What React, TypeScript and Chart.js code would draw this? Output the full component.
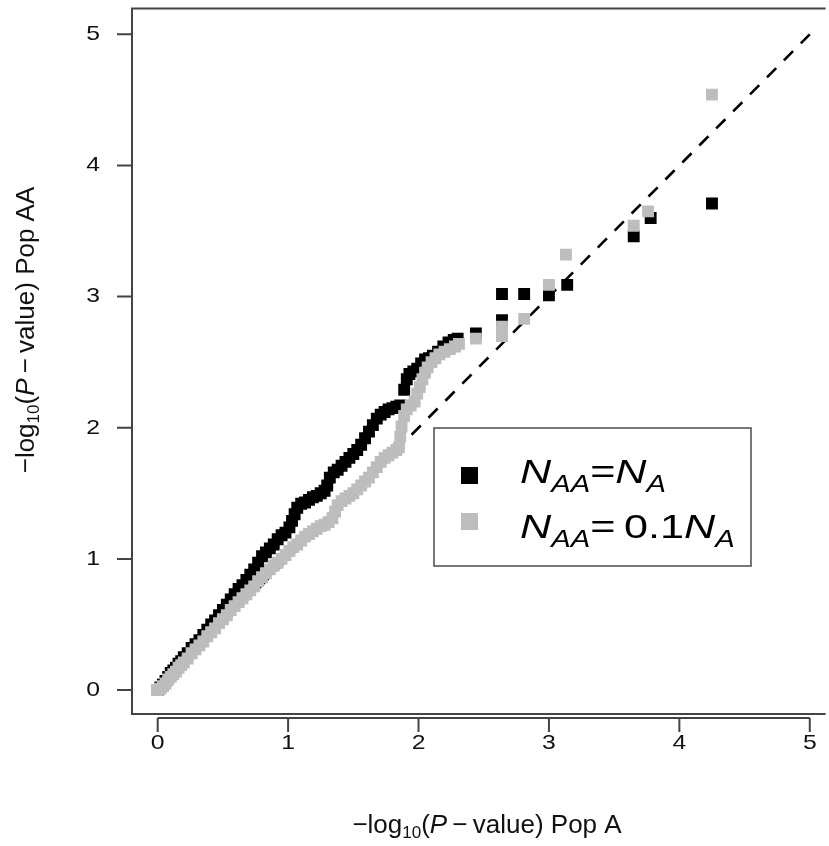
import { useEffect, useRef } from "react";
import { Chart, registerables } from "chart.js";

Chart.register(...registerables);

// Black series: N_AA = N_A  (expected -log10 p, observed -log10 p)
const blackX = [
  0.0, 0.02, 0.04, 0.06, 0.08, 0.1, 0.12, 0.14, 0.16, 0.18, 0.2, 0.23, 0.26, 0.29, 0.32, 0.35, 0.38, 0.41,
  0.44, 0.47, 0.5, 0.53, 0.56, 0.59, 0.62, 0.65, 0.68, 0.71, 0.74, 0.77, 0.8, 0.83, 0.86, 0.89, 0.92, 0.95,
  0.98, 1.01, 1.03, 1.05, 1.07, 1.1, 1.13, 1.16, 1.19, 1.22, 1.25, 1.28, 1.3, 1.32, 1.35, 1.38, 1.41, 1.44,
  1.47, 1.5, 1.53, 1.56, 1.59, 1.62, 1.65, 1.68, 1.71, 1.74, 1.77, 1.8, 1.83, 1.86, 1.89, 1.91, 1.93, 1.96,
  1.99, 2.02, 2.05, 2.08, 2.11, 2.15, 2.19, 2.23, 2.27, 2.3, 2.44, 2.64, 2.64, 2.81, 3.0, 3.14, 3.65, 3.78, 4.25,
];
const blackY = [
  0.0, 0.02, 0.04, 0.07, 0.1, 0.13, 0.15, 0.17, 0.2, 0.22, 0.25, 0.28, 0.32, 0.35, 0.38, 0.42, 0.46, 0.5,
  0.53, 0.57, 0.61, 0.65, 0.69, 0.73, 0.77, 0.8, 0.84, 0.88, 0.92, 0.97, 1.02, 1.05, 1.08, 1.11, 1.15, 1.18,
  1.2, 1.24, 1.29, 1.34, 1.39, 1.42, 1.43, 1.45, 1.47, 1.48, 1.5, 1.52, 1.56, 1.62, 1.66, 1.68, 1.71, 1.74,
  1.77, 1.8, 1.83, 1.87, 1.92, 1.97, 2.02, 2.07, 2.1, 2.12, 2.14, 2.15, 2.16, 2.17, 2.29, 2.37, 2.41, 2.43,
  2.45, 2.49, 2.52, 2.53, 2.55, 2.58, 2.62, 2.65, 2.67, 2.68, 2.72, 2.82, 3.02, 3.02, 3.01, 3.09, 3.46, 3.6, 3.71,
];

// Grey series: N_AA = 0.1 N_A
const greyX = [
  0.0, 0.02, 0.04, 0.06, 0.08, 0.1, 0.12, 0.14, 0.16, 0.18, 0.2, 0.23, 0.26, 0.29, 0.32, 0.35, 0.38, 0.41,
  0.44, 0.47, 0.5, 0.53, 0.56, 0.59, 0.62, 0.65, 0.68, 0.71, 0.74, 0.77, 0.8, 0.83, 0.86, 0.89, 0.92, 0.95,
  0.98, 1.01, 1.04, 1.07, 1.1, 1.13, 1.16, 1.19, 1.22, 1.25, 1.28, 1.31, 1.34, 1.36, 1.38, 1.41, 1.44, 1.47,
  1.5, 1.53, 1.56, 1.59, 1.62, 1.65, 1.68, 1.71, 1.74, 1.77, 1.8, 1.83, 1.85, 1.86, 1.87, 1.89, 1.91, 1.94,
  1.97, 1.99, 2.01, 2.03, 2.05, 2.07, 2.1, 2.13, 2.16, 2.2, 2.24, 2.28, 2.31, 2.44, 2.64, 2.64, 2.81, 3.0,
  3.13, 3.65, 3.76, 4.25,
];
const greyY = [
  0.0, 0.01, 0.03, 0.05, 0.08, 0.1, 0.12, 0.14, 0.17, 0.19, 0.21, 0.24, 0.28, 0.31, 0.34, 0.37, 0.41, 0.44,
  0.47, 0.51, 0.54, 0.57, 0.61, 0.64, 0.67, 0.7, 0.73, 0.76, 0.79, 0.83, 0.86, 0.89, 0.92, 0.95, 0.97, 1.0,
  1.03, 1.06, 1.09, 1.11, 1.14, 1.17, 1.19, 1.21, 1.23, 1.25, 1.26, 1.28, 1.31, 1.36, 1.41, 1.44, 1.46, 1.48,
  1.5, 1.53, 1.56, 1.59, 1.62, 1.66, 1.7, 1.74, 1.77, 1.79, 1.81, 1.83, 1.85, 1.93, 2.01, 2.09, 2.14, 2.17,
  2.2, 2.26, 2.31, 2.37, 2.42, 2.46, 2.5, 2.53, 2.56, 2.58, 2.6, 2.62, 2.64, 2.68, 2.7, 2.77, 2.83, 3.09,
  3.32, 3.54, 3.65, 4.54,
];

// Reference line y = x
const refX = [0, 5];
const refY = [0, 5];

const xTicks = [0, 1, 2, 3, 4, 5];
const yTicks = [0, 1, 2, 3, 4, 5];

const FONT = '"Liberation Sans", Arial, Helvetica, sans-serif';

type Seg = { t: string; f: string; dy?: number };

function drawRich(
  ctx: CanvasRenderingContext2D,
  segs: Seg[],
  x: number,
  y: number,
  align: "left" | "center",
  sx = 1
) {
  let w = 0;
  for (const s of segs) {
    ctx.font = s.f;
    w += ctx.measureText(s.t).width;
  }
  ctx.save();
  ctx.translate(x, y);
  ctx.scale(sx, 1);
  let cx = align === "center" ? -w / 2 : 0;
  ctx.textAlign = "left";
  ctx.textBaseline = "alphabetic";
  for (const s of segs) {
    ctx.font = s.f;
    ctx.fillText(s.t, cx, s.dy || 0);
    cx += ctx.measureText(s.t).width;
  }
  ctx.restore();
}

function stretchText(
  ctx: CanvasRenderingContext2D,
  text: string,
  x: number,
  y: number,
  sx: number,
  align: CanvasTextAlign
) {
  ctx.save();
  ctx.translate(x, y);
  ctx.scale(sx, 1);
  ctx.textAlign = align;
  ctx.textBaseline = "middle";
  ctx.fillText(text, 0, 0);
  ctx.restore();
}

function titleSegs(tail: string): Seg[] {
  const n = `26px ${FONT}`;
  return [
    { t: "\u2212log", f: n },
    { t: "10", f: `17px ${FONT}`, dy: 5 },
    { t: "(", f: n },
    { t: "P", f: `italic 26px ${FONT}` },
    { t: "\u2009\u2212\u2009value) " + tail, f: n },
  ];
}

const decor = {
  id: "decor",
  afterDraw(chart: any) {
    const { ctx, chartArea: a, scales } = chart;
    const xs = scales.x;
    const ys = scales.y;
    ctx.save();
    // box (right side falls outside the picture)
    ctx.strokeStyle = "#444";
    ctx.lineWidth = 2;
    ctx.beginPath();
    ctx.moveTo(a.right + 5, a.top);
    ctx.lineTo(a.left, a.top);
    ctx.lineTo(a.left, a.bottom);
    ctx.lineTo(a.right + 5, a.bottom);
    ctx.stroke();

    // x axis
    const ax = a.bottom + 4;
    ctx.beginPath();
    ctx.moveTo(xs.getPixelForValue(xTicks[0]), ax);
    ctx.lineTo(xs.getPixelForValue(xTicks[xTicks.length - 1]), ax);
    for (const t of xTicks) {
      const p = xs.getPixelForValue(t);
      ctx.moveTo(p, ax);
      ctx.lineTo(p, ax + 14);
    }
    // y ticks
    for (const t of yTicks) {
      const p = ys.getPixelForValue(t);
      ctx.moveTo(a.left - 15, p);
      ctx.lineTo(a.left, p);
    }
    ctx.stroke();

    ctx.fillStyle = "#111";
    ctx.font = `21px ${FONT}`;
    for (const t of xTicks) {
      stretchText(ctx, String(t), xs.getPixelForValue(t), a.bottom + 29, 1.18, "center");
    }
    for (const t of yTicks) {
      stretchText(ctx, String(t), a.left - 32, ys.getPixelForValue(t), 1.18, "right");
    }

    // axis titles
    drawRich(ctx, titleSegs("Pop A"), 487, 833, "center");
    ctx.save();
    ctx.translate(34, 330);
    ctx.rotate(-Math.PI / 2);
    drawRich(ctx, titleSegs("Pop AA"), 0, 0, "center");
    ctx.restore();

    // legend
    const lx = 434, ly = 428, lw = 317, lh = 138;
    ctx.fillStyle = "#fff";
    ctx.fillRect(lx, ly, lw, lh);
    ctx.strokeStyle = "#555";
    ctx.lineWidth = 1.6;
    ctx.strokeRect(lx, ly, lw, lh);
    ctx.fillStyle = "#000";
    ctx.fillRect(461, 467, 17, 17);
    ctx.fillStyle = "#bdbdbd";
    ctx.fillRect(461, 513, 17, 17);
    ctx.fillStyle = "#000";
    const big = `italic 34px ${FONT}`;
    const sub = `italic 23px ${FONT}`;
    const nor = `34px ${FONT}`;
    drawRich(ctx, [
      { t: "N", f: big },
      { t: "AA", f: sub, dy: 9 },
      { t: "=", f: nor },
      { t: "N", f: big },
      { t: "A", f: sub, dy: 9 },
    ], 520, 483, "left", 1.27);
    drawRich(ctx, [
      { t: "N", f: big },
      { t: "AA", f: sub, dy: 9 },
      { t: "=\u2009", f: nor },
      { t: "0.1", f: nor },
      { t: "N", f: big },
      { t: "A", f: sub, dy: 9 },
    ], 520, 538, "left", 1.27);
    ctx.restore();
  },
};

export default function App() {
  const ref = useRef<HTMLCanvasElement>(null);
  useEffect(() => {
    const canvas = ref.current;
    if (!canvas) return;
    const chart = new Chart(canvas, {
      type: "scatter",
      data: {
        datasets: [
          {
            label: "y = x",
            data: refX.map((x, i) => ({ x, y: refY[i] })),
            showLine: true,
            borderColor: "#000",
            borderWidth: 2.6,
            borderDash: [13, 11],
            pointRadius: 0,
            order: 3,
          } as any,
          {
            label: "N_AA = N_A",
            data: blackX.map((x, i) => ({ x, y: blackY[i] })),
            pointStyle: "rect",
            pointRadius: 8.4,
            backgroundColor: "#000",
            borderWidth: 0,
            order: 2,
          },
          {
            label: "N_AA = 0.1 N_A",
            data: greyX.map((x, i) => ({ x, y: greyY[i] })),
            pointStyle: "rect",
            pointRadius: 8.4,
            backgroundColor: "#bdbdbd",
            borderWidth: 0,
            order: 1,
          },
        ],
      },
      options: {
        responsive: false,
        animation: false,
        events: [],
        layout: { padding: { left: 132, top: 8, right: 0, bottom: 132 } },
        scales: {
          x: { type: "linear", min: -0.197, max: 5.083, display: false },
          y: { type: "linear", min: -0.183, max: 5.198, display: false },
        },
        plugins: { legend: { display: false }, tooltip: { enabled: false } },
      },
      plugins: [decor],
    });
    return () => chart.destroy();
  }, []);
  return (
    <div style={{ position: "absolute", left: 0, top: 0, width: 829, height: 846, background: "#fff" }}>
      <canvas ref={ref} width={829} height={846} style={{ width: 829, height: 846, display: "block" }} />
    </div>
  );
}
